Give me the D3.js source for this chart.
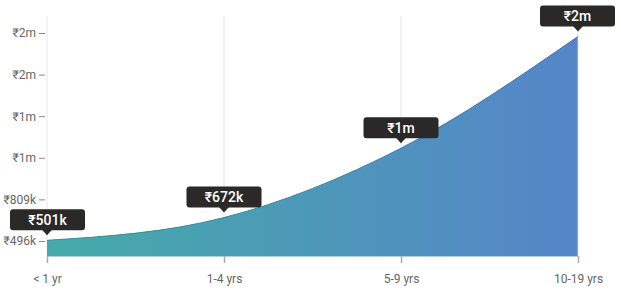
<!DOCTYPE html>
<html>
<head>
<meta charset="utf-8">
<script src="https://cdn.jsdelivr.net/npm/d3@7"></script>
<style>
  body { margin: 0; background: #fff; font-family: Roboto, "Noto Sans", sans-serif; }
</style>
</head>
<body>
<div id="canvas"></div>
<script>
// chart data
const categories = ["< 1 yr", "1-4 yrs", "5-9 yrs", "10-19 yrs"];
const salaries = [501000, 672000, 1194000, 2035000];
const salaryLabels = ["₹501k", "₹672k", "₹1m", "₹2m"];
const yTicks = [496000, 809000, 1122000, 1435000, 1748000, 2061000];
const yTickLabels = ["₹496k", "₹809k", "₹1m", "₹1m", "₹2m", "₹2m"];

const width = 621;
const height = 291;
const margin = { top: 16, left: 47, bottom: 35, right: 43 };
const iwidth = width - margin.left - margin.right;
const iheight = height - margin.top - margin.bottom;

const svg = d3.select("#canvas").append("svg")
  .attr("width", width)
  .attr("height", height);

const defs = svg.append("defs");
const grad = defs.append("linearGradient").attr("id", "fillGrad")
  .attr("x1", "0%").attr("x2", "100%").attr("y1", "0%").attr("y2", "0%");
grad.append("stop").attr("offset", "0%").attr("stop-color", "#45aba9");
grad.append("stop").attr("offset", "100%").attr("stop-color", "#5585c8");

const lineGrad = defs.append("linearGradient").attr("id", "lineGrad")
  .attr("x1", "0%").attr("x2", "100%").attr("y1", "0%").attr("y2", "0%");
lineGrad.append("stop").attr("offset", "0%").attr("stop-color", "#2f9495");
lineGrad.append("stop").attr("offset", "100%").attr("stop-color", "#3f6fb5");

const g = svg.append("g").attr("transform", `translate(${margin.left},${margin.top})`);

const x = d3.scalePoint()
  .domain(categories)
  .range([0, iwidth]);

const y = d3.scaleLinear()
  .domain([383000, 2189000])
  .range([iheight, 0]);

const data = categories.map((c, i) => ({ cat: c, value: salaries[i], label: salaryLabels[i] }));

// vertical grid lines
g.selectAll("line.grid").data(categories).enter().append("line")
  .attr("class", "grid")
  .attr("x1", d => x(d)).attr("x2", d => x(d))
  .attr("y1", 0).attr("y2", iheight)
  .attr("stroke", d => d === categories[0] ? "#e8e8e8" : "#e3e3e3")
  .attr("stroke-width", 1);

// area
const area = d3.area()
  .x(d => x(d.cat))
  .y0(iheight)
  .y1(d => y(d.value))
  .curve(d3.curveMonotoneX);

const line = d3.line()
  .x(d => x(d.cat))
  .y(d => y(d.value))
  .curve(d3.curveMonotoneX);

g.append("path").datum(data)
  .attr("d", area)
  .attr("fill", "url(#fillGrad)");

g.append("path").datum(data)
  .attr("d", line)
  .attr("fill", "none")
  .attr("stroke", "url(#lineGrad)")
  .attr("stroke-width", 1);

// right edge of area
g.append("line")
  .attr("x1", x(categories[3]) - 0.5).attr("x2", x(categories[3]) - 0.5)
  .attr("y1", y(salaries[3])).attr("y2", iheight)
  .attr("stroke", "#86a9df").attr("stroke-width", 1);

// y axis
const yAxis = g.append("g")
  .call(d3.axisLeft(y).tickValues(yTicks).tickFormat((d, i) => yTickLabels[i]).tickSize(6).tickPadding(3));
yAxis.select(".domain").remove();
yAxis.selectAll(".tick line").attr("stroke", "#888").attr("transform", "translate(-2,0)");
yAxis.selectAll(".tick text")
  .attr("fill", "#666").attr("font-size", 12).attr("font-family", "Roboto, sans-serif")
  .attr("dx", -2);

// x axis
const xAxis = g.append("g")
  .attr("transform", `translate(0,${iheight})`)
  .call(d3.axisBottom(x).tickSize(7).tickPadding(11));
xAxis.select(".domain").attr("stroke", "#7fb0c8").attr("stroke-opacity", 0.6);
xAxis.selectAll(".tick line").attr("stroke", "#aaa").attr("stroke-width", 1.5);
xAxis.selectAll(".tick text")
  .attr("fill", "#666").attr("font-size", 12).attr("font-family", "Roboto, sans-serif");

// tooltips
const tipW = 75, tipH = 21;
const clampX = cx => Math.min(Math.max(cx, tipW / 2 - margin.left + 10), iwidth + margin.right - tipW / 2 - 6);

const tips = g.selectAll("g.tip").data(data).enter().append("g")
  .attr("class", "tip")
  .attr("transform", d => `translate(${clampX(x(d.cat))},${y(d.value) - 5})`);

tips.append("rect")
  .attr("x", -tipW / 2).attr("y", -tipH - 5)
  .attr("width", tipW).attr("height", tipH)
  .attr("rx", 3)
  .attr("fill", "#2b2828");

tips.append("path")
  .attr("d", d => {
    const off = x(d.cat) - clampX(x(d.cat));
    return `M${off - 5},-5.5L${off},0L${off + 5},-5.5Z`;
  })
  .attr("fill", "#2b2828");

tips.append("text")
  .attr("x", 0).attr("y", -tipH / 2 - 5)
  .attr("dy", "0.36em")
  .attr("text-anchor", "middle")
  .attr("fill", "#fff")
  .attr("font-size", 14)
  .attr("font-weight", 500)
  .attr("font-family", "Roboto, sans-serif")
  .text(d => d.label);
</script>
</body>
</html>
